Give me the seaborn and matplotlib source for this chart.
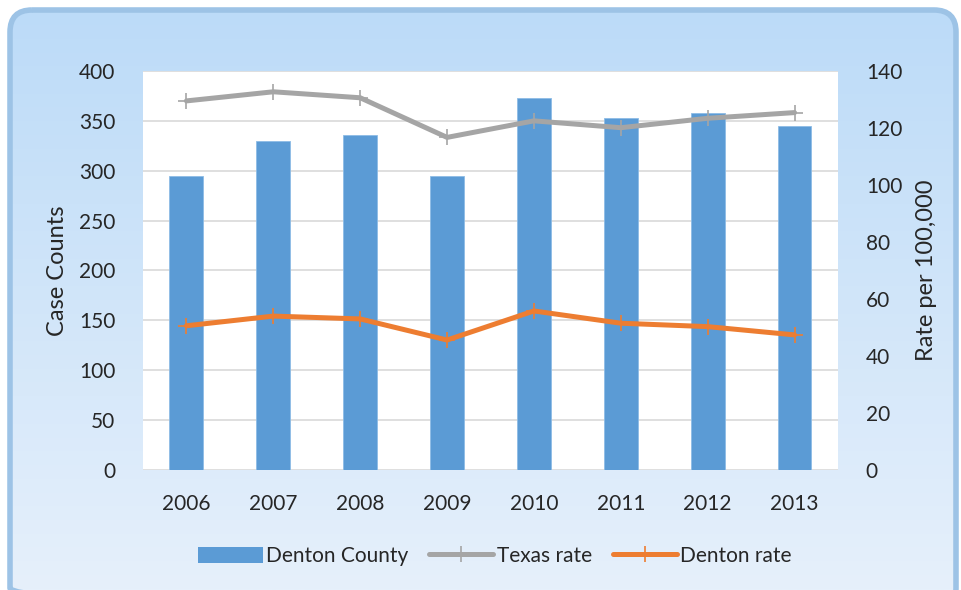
import numpy as np
import matplotlib.pyplot as plt
import seaborn as sns
from matplotlib.patches import FancyBboxPatch
from matplotlib.lines import Line2D
from matplotlib.patches import Patch

# ------------------------------------------------------------------
# data
# ------------------------------------------------------------------
years = ["2006", "2007", "2008", "2009", "2010", "2011", "2012", "2013"]
denton_county = [295, 330, 336, 295, 373, 353, 358, 345]
texas_rate = [129.5, 132.7, 130.6, 116.7, 122.5, 120.1, 123.4, 125.4]
denton_rate = [50.6, 54.0, 53.0, 45.6, 55.8, 51.5, 50.3, 47.4]

BAR_BLUE = "#5B9BD5"
GRAY = "#A5A5A5"
ORANGE = "#ED7D31"

sns.set_style("white")
plt.rcParams["font.family"] = ["Lato", "DejaVu Sans"]

fig = plt.figure(figsize=(9.61, 5.90), dpi=100)

# rounded gradient background panel
bg = fig.add_axes([0, 0, 1, 1], zorder=-5)
bg.set_xlim(0, 961)
bg.set_ylim(590, 0)
bg.axis("off")
panel = FancyBboxPatch((10, 10), 946, 600, boxstyle="round,pad=0,rounding_size=22",
                       facecolor="none", edgecolor="#9DC3E6", linewidth=4)
grad = np.linspace(0, 1, 256).reshape(-1, 1)
top_c = np.array([0xBC, 0xDB, 0xF8]) / 255
bot_c = np.array([0xE6, 0xF0, 0xFB]) / 255
img = top_c + (bot_c - top_c) * grad[..., None]
im = bg.imshow(img, extent=[10, 956, 590, 10], aspect="auto")
bg.add_patch(panel)
im.set_clip_path(panel)

# main axes
ax = fig.add_axes([0.1488, 0.2034, 0.7232, 0.6763])
ax.set_facecolor("white")
df_x = np.arange(len(years))
sns.barplot(x=years, y=denton_county, color=BAR_BLUE, width=0.39,
            saturation=1, ax=ax, zorder=2, edgecolor="#8DBCE6", linewidth=0.6)
ax.set_ylim(0, 400)
ax.set_yticks(range(0, 401, 50))
ax.set_xlim(-0.5, len(years) - 0.5)
ax.grid(axis="y", color="#D9D9D9", linewidth=1.2, zorder=0)
ax.set_axisbelow(True)
ax.set_ylabel("Case Counts", fontsize=17, labelpad=8)
ax.set_xlabel("")
ax.tick_params(axis="both", length=0, labelsize=15)
ax.tick_params(axis="y", pad=20)
ax.tick_params(axis="x", pad=17)
for s in ax.spines.values():
    s.set_visible(False)

ax2 = ax.twinx()
sns.lineplot(x=df_x, y=texas_rate, color=GRAY, linewidth=3.6, marker="+",
             markersize=11, markeredgewidth=1.2, markeredgecolor=GRAY, ax=ax2)
sns.lineplot(x=df_x, y=denton_rate, color=ORANGE, linewidth=3.6, marker="+",
             markersize=11, markeredgewidth=1.2, markeredgecolor=ORANGE, ax=ax2)
ax2.set_ylim(0, 140)
ax2.set_yticks(range(0, 141, 20))
ax2.set_ylabel("Rate per 100,000", fontsize=17, labelpad=10)
ax2.tick_params(axis="y", length=0, labelsize=15, pad=20)
ax2.grid(False)
for s in ax2.spines.values():
    s.set_visible(False)

handles = [
    Patch(facecolor=BAR_BLUE, edgecolor="none", label="Denton County"),
    Line2D([], [], color=GRAY, linewidth=3.6, marker="+", markersize=11,
           markeredgewidth=1.2, label="Texas rate"),
    Line2D([], [], color=ORANGE, linewidth=3.6, marker="+", markersize=11,
           markeredgewidth=1.2, label="Denton rate"),
]
fig.legend(handles=handles, loc="center", bbox_to_anchor=(0.515, 0.058), ncol=3,
           frameon=False, fontsize=15, handlelength=3.1, handletextpad=0.15,
           columnspacing=1.0, handleheight=0.8)

fig.savefig("out.png", dpi=100)
